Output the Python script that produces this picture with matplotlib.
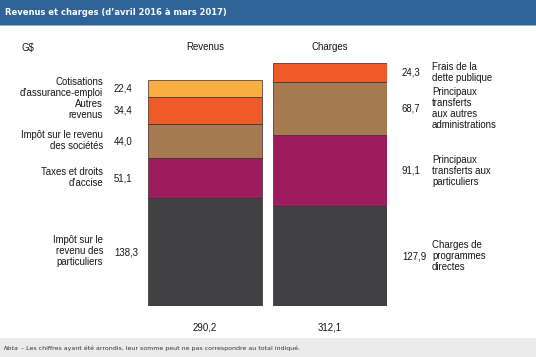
import matplotlib
matplotlib.use("Agg")
import matplotlib.pyplot as plt
import matplotlib.transforms as mtransforms
from matplotlib.patches import Rectangle

plt.rcParams['font.family'] = ['Liberation Sans', 'DejaVu Sans']

# données (G$)
columns = ['Revenus', 'Charges']
totals = ['290,2', '312,1']

rev_labels = ['Impôt sur le\nrevenu des\nparticuliers', 'Taxes et droits\nd’accise',
              'Impôt sur le revenu\ndes sociétés', 'Autres\nrevenus',
              'Cotisations\nd’assurance-emploi']
rev_values = [138.3, 51.1, 44.0, 34.4, 22.4]
rev_colors = ['#414042', '#9c1c5f', '#a57a51', '#ef5a29', '#f9ae41']

chg_labels = ['Charges de\nprogrammes\ndirectes', 'Principaux\ntransferts aux\nparticuliers',
              'Principaux\ntransferts\naux autres\nadministrations', 'Frais de la\ndette publique']
chg_values = [127.9, 91.1, 68.7, 24.3]
chg_colors = ['#414042', '#9c1c5f', '#a57a51', '#ef5a29']

def fmt(v):
    return f'{v:.1f}'.replace('.', ',')

W, H = 536, 357
fig = plt.figure(figsize=(W / 100, H / 100), dpi=100)
fig.patch.set_facecolor('white')
txt = '#151515'

# bandeau titre
fig.patches.append(Rectangle((0, 1 - 25 / H), 1, 25 / H, transform=fig.transFigure,
                             facecolor='#2e6497', edgecolor='none'))
fig.patches.append(Rectangle((0, 1 - 26 / H), 1, 1.2 / H, transform=fig.transFigure,
                             facecolor='#8fb0cf', edgecolor='none'))
fig.text(5 / W, 1 - 12.5 / H, 'Revenus et charges (d’avril 2016 à mars 2017)',
         color='white', fontsize=6.0, fontweight='bold', family='DejaVu Sans',
         va='center', ha='left')

# bande de note
fig.patches.append(Rectangle((0, 0), 1, 19 / H, transform=fig.transFigure,
                             facecolor='#ebebeb', edgecolor='none'))
nota = fig.text(4 / W, 9 / H, 'Nota', fontsize=4.5, style='italic', family='DejaVu Sans',
                va='center', ha='left', color='#333333')
fig.canvas.draw()
bb = nota.get_window_extent()
fig.text((bb.x1 + 2) / W, 9 / H, '– Les chiffres ayant été arrondis, leur somme peut ne pas '
         'correspondre au total indiqué.', fontsize=4.5, family='DejaVu Sans',
         va='center', ha='left', color='#333333')

# axes des barres
left, right, bottom, top = 148, 387, 306, 63
ax = fig.add_axes([left / W, 1 - bottom / H, (right - left) / W, (bottom - top) / H])
ax.set_xlim(-0.456, 1.456)
ax.set_ylim(0, sum(chg_values))
ax.axis('off')

for i, (vals, cols) in enumerate([(rev_values, rev_colors), (chg_values, chg_colors)]):
    base = 0
    for v, c in zip(vals, cols):
        ax.bar(i, v, bottom=base, width=0.912, color=c, edgecolor='#3a2a2a', linewidth=0.5)
        base += v

tr = mtransforms.blended_transform_factory(fig.transFigure, ax.transData)
fs = 6.9

base = 0
for lab, v in zip(rev_labels, rev_values):
    mid = base + v / 2
    ax.text(103 / W, mid + 1.5, lab, transform=tr, ha='right', va='center',
            fontsize=fs, linespacing=1.12, color=txt)
    ax.text(114 / W, mid, fmt(v), transform=tr, ha='left', va='center',
            fontsize=fs, color=txt)
    base += v

base = 0
for lab, v in zip(chg_labels, chg_values):
    mid = base + v / 2
    ax.text(432 / W, mid, lab, transform=tr, ha='left', va='center',
            fontsize=fs, linespacing=1.12, color=txt)
    ax.text(402 / W, mid, fmt(v), transform=tr, ha='left', va='center',
            fontsize=fs, color=txt)
    base += v

# en-têtes et totaux
fig.text(21 / W, 1 - 48 / H, 'G$', fontsize=fs, ha='left', va='center', color=txt)
trx = mtransforms.blended_transform_factory(ax.transData, fig.transFigure)
for i, (col, tot) in enumerate(zip(columns, totals)):
    ax.text(i, 1 - 47 / H, col, transform=trx, ha='center', va='center', fontsize=fs, color=txt)
    ax.text(i, 1 - 327 / H, tot, transform=trx, ha='center', va='center', fontsize=fs, color=txt)

fig.savefig('out.png', dpi=100)
